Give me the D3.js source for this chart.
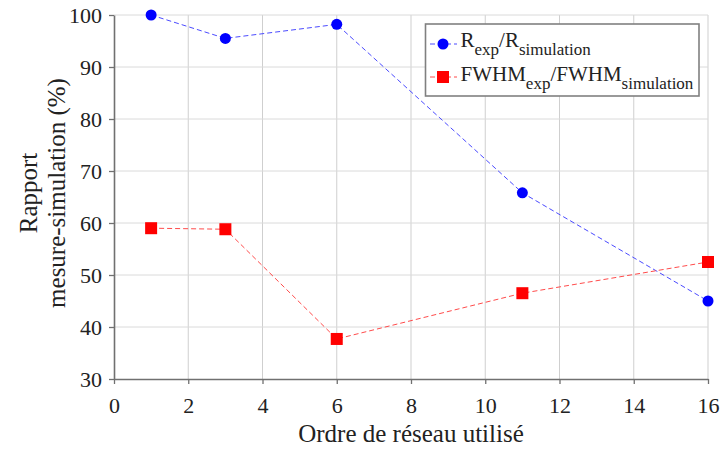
<!DOCTYPE html>
<html><head><meta charset="utf-8">
<script src="https://cdn.jsdelivr.net/npm/d3@7"></script>
<style>body{margin:0;background:#fff}svg{display:block}</style>
</head><body><div id="c"></div>
<script>
const xValues = [1, 3, 6, 11, 16];
const rRatio = [100, 95.5, 98.2, 65.8, 45];
const fwhmRatio = [59, 58.8, 37.7, 46.5, 52.5];
const xTicks = [0, 2, 4, 6, 8, 10, 12, 14, 16];
const yTicks = [30, 40, 50, 60, 70, 80, 90, 100];

const FONT = '"Liberation Serif"';
const W = 722, H = 450;
const m = {l: 114, r: 14, t: 15, b: 71};
const svg = d3.select("#c").append("svg").attr("width", W).attr("height", H)
  .style("font-family", FONT);
const x = d3.scaleLinear().domain([0, 16]).range([m.l, W - m.r]);
const y = d3.scaleLinear().domain([30, 100]).range([H - m.b, m.t]);

// grid
const g = svg.append("g");
g.selectAll(".vg").data(xTicks.slice(1)).join("line")
  .attr("x1", d => x(d)).attr("x2", d => x(d)).attr("y1", y(30)).attr("y2", y(100))
  .attr("stroke", "#cfcfcf").attr("stroke-width", 1);
g.selectAll(".hg").data(yTicks.slice(1)).join("line")
  .attr("x1", x(0)).attr("x2", x(16)).attr("y1", d => y(d)).attr("y2", d => y(d))
  .attr("stroke", "#dadada").attr("stroke-width", 1);

// axes
const xa = svg.append("g").attr("transform", `translate(0,${y(30)})`)
  .call(d3.axisBottom(x).tickValues(xTicks).tickSize(5).tickPadding(13).tickSizeOuter(0));
const ya = svg.append("g").attr("transform", `translate(${x(0)},0)`)
  .call(d3.axisLeft(y).tickValues(yTicks).tickSize(5).tickPadding(7).tickSizeOuter(0));
[xa, ya].forEach(a => {
  a.attr("font-family", null).attr("font-size", null).style("font-family", FONT);
  a.select(".domain").attr("stroke", "#707070").attr("stroke-width", 1.6);
  a.selectAll(".tick line").attr("stroke", "#707070").attr("stroke-width", 1.3);
  a.selectAll(".tick text").style("font-family", FONT).style("font-size", "22px").attr("fill", "#222");
});

// titles
svg.append("text").attr("x", x(8)).attr("y", 442).attr("text-anchor", "middle")
  .style("font-family", FONT).style("font-size", "25px").attr("fill", "#222").text("Ordre de réseau utilisé");
const yl = svg.append("text").attr("transform", `translate(0,193) rotate(-90)`)
  .attr("text-anchor", "middle").style("font-family", FONT).style("font-size", "25px").attr("fill", "#222");
yl.append("tspan").attr("x", 0).attr("y", 37).text("Rapport");
yl.append("tspan").attr("x", 0).attr("y", 65).text("mesure-simulation (%)");

// series
const line = d3.line().x(d => x(d[0])).y(d => y(d[1]));
const rData = xValues.map((v, i) => [v, rRatio[i]]);
const fData = xValues.map((v, i) => [v, fwhmRatio[i]]);
svg.append("path").datum(rData).attr("d", line).attr("fill", "none")
  .attr("stroke", "#4b4bff").attr("stroke-width", 1).attr("stroke-dasharray", "5,3");
svg.append("path").datum(fData).attr("d", line).attr("fill", "none")
  .attr("stroke", "#ff4b4b").attr("stroke-width", 1).attr("stroke-dasharray", "5,3");
svg.selectAll(".rp").data(rData).join("circle")
  .attr("cx", d => x(d[0])).attr("cy", d => y(d[1])).attr("r", 5.5).attr("fill", "#0000ff");
svg.selectAll(".fp").data(fData).join("rect")
  .attr("x", d => x(d[0]) - 6).attr("y", d => y(d[1]) - 6).attr("width", 12).attr("height", 12).attr("fill", "#ff0000");

// legend
const lg = svg.append("g");
lg.append("rect").attr("x", 425.5).attr("y", 24).attr("width", 273.5).attr("height", 72)
  .attr("fill", "#fff").attr("stroke", "#808080").attr("stroke-width", 1.6);
const rows = [
  {y: 44, base: 47, color: "#0000ff", lc: "#4b4bff", shape: "c", main1: "R", sub1: "exp", main2: "/R", sub2: "simulation"},
  {y: 77, base: 81, color: "#ff0000", lc: "#ff4b4b", shape: "s", main1: "FWHM", sub1: "exp", main2: "/FWHM", sub2: "simulation"}
];
rows.forEach(r => {
  lg.append("line").attr("x1", 430).attr("x2", 457).attr("y1", r.y).attr("y2", r.y)
    .attr("stroke", r.lc).attr("stroke-width", 1).attr("stroke-dasharray", "5,3");
  if (r.shape === "c") lg.append("circle").attr("cx", 443).attr("cy", r.y).attr("r", 5.5).attr("fill", r.color);
  else lg.append("rect").attr("x", 437).attr("y", r.y - 6).attr("width", 12).attr("height", 12).attr("fill", r.color);
  const t = lg.append("text").attr("x", 460.5).attr("y", r.base).style("font-family", FONT).style("font-size", "21px").attr("fill", "#222");
  t.append("tspan").text(r.main1);
  t.append("tspan").attr("dy", 8).style("font-size", "17px").text(r.sub1);
  t.append("tspan").attr("dy", -8).text(r.main2);
  t.append("tspan").attr("dy", 8).style("font-size", "17px").text(r.sub2);
});
</script></body></html>
